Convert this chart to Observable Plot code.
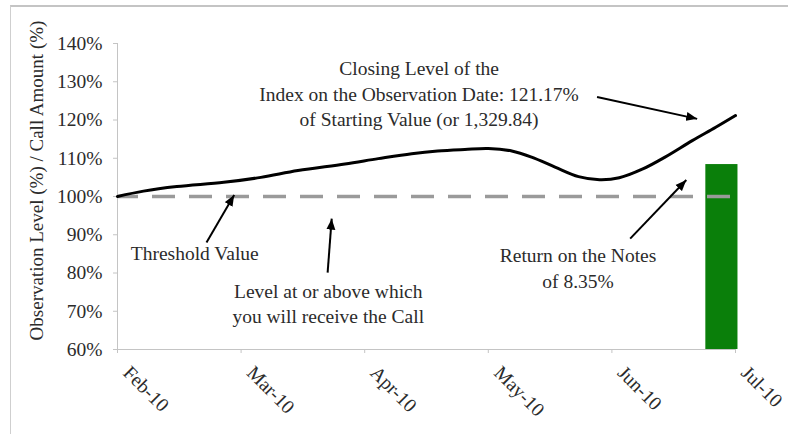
<!DOCTYPE html>
<html>
<head>
<meta charset="utf-8">
<script src="https://cdn.jsdelivr.net/npm/d3@7"></script>
<script src="https://cdn.jsdelivr.net/npm/@observablehq/plot@0.6"></script>
<style>
  html, body { margin: 0; padding: 0; background: #fff; }
  #wrap { position: relative; width: 788px; height: 434px; overflow: hidden; }
  #border { position: absolute; left: 10px; top: 5px; right: -2px; bottom: -2px;
            border-top: 2px solid #c4c4c4; border-left: 1px solid #cfcfcf; pointer-events: none; }
</style>
</head>
<body>
<div id="wrap"><div id="border"></div></div>
<script>
// ---- data ----
const monthLabels = ["Feb-10", "Mar-10", "Apr-10", "May-10", "Jun-10", "Jul-10"];
const monthPositions = [0, 1, 2, 3, 4, 5];
const yTicks = [60, 70, 80, 90, 100, 110, 120, 130, 140];

// Index level (% of starting value), x in months since Feb-10
const levelX = [0, 0.21, 0.48, 0.86, 1.16, 1.46, 1.84, 2.11, 2.38, 2.59, 2.81, 3.0, 3.19, 3.35, 3.54, 3.73, 3.9, 4.06, 4.25, 4.43, 4.65, 4.84, 5.0];
const levelY = [100, 101.4, 102.6, 103.7, 105.0, 106.8, 108.5, 109.9, 111.2, 111.9, 112.3, 112.55, 111.9, 110.3, 107.7, 105.2, 104.4, 104.9, 107.2, 110.3, 114.6, 118.1, 121.17];

const thresholdValue = 100;
const callAmount = 108.35;   // 100% + 8.35% return
const barStart = [4.76];
const barEnd = [5.02];

const annotationTexts = [
  "Closing Level of the\nIndex on the Observation Date: 121.17%\nof Starting Value (or 1,329.84)",
  "Threshold Value",
  "Level at or above which\nyou will receive the Call",
  "Return on the Notes\nof 8.35%"
];
const annotationX = [2.44, 0.625, 1.705, 3.726];
const annotationY = [127.2, 85.5, 72.3, 81.6];

const arrowX1 = [3.88, 0.72, 1.70, 4.148];
const arrowY1 = [126.0, 88.0, 80.1, 89.0];
const arrowX2 = [4.69, 0.944, 1.733, 4.602];
const arrowY2 = [120.3, 100.4, 94.2, 104.3];

const yLabel = "Observation Level (%) / Call Amount (%)";

// ---- build ----
const line = levelX.map((x, i) => ({x, y: levelY[i]}));
const bar = barStart.map((x1, i) => ({x1, x2: barEnd[i], y1: 60, y2: callAmount}));
const notes = annotationTexts.map((t, i) => ({t, x: annotationX[i], y: annotationY[i]}));
const arrows = arrowX1.map((x1, i) => ({x1, y1: arrowY1[i], x2: arrowX2[i], y2: arrowY2[i]}));

const FONT = "'Liberation Serif', 'Times New Roman', serif";
const FS = 19.5;
const TXT = "#2b2b2b";

// filled triangular arrowhead marker (like the spreadsheet's)
function filledArrow(color) {
  const ns = "http://www.w3.org/2000/svg";
  const m = document.createElementNS(ns, "marker");
  m.setAttribute("viewBox", "-11 -5 12 10");
  m.setAttribute("markerWidth", "12");
  m.setAttribute("markerHeight", "10");
  m.setAttribute("markerUnits", "userSpaceOnUse");
  m.setAttribute("refX", "0");
  m.setAttribute("refY", "0");
  m.setAttribute("orient", "auto");
  const p = document.createElementNS(ns, "path");
  p.setAttribute("d", "M0,0L-11,-4.5L-11,4.5Z");
  p.setAttribute("fill", color);
  p.setAttribute("stroke", "none");
  m.appendChild(p);
  return m;
}

const chart = Plot.plot({
  width: 788,
  height: 434,
  marginLeft: 117,
  marginRight: 53,
  marginTop: 43,
  marginBottom: 85,
  style: {fontFamily: FONT, fontSize: FS + "px", background: "transparent", color: TXT},
  x: {type: "linear", domain: [0, 5], axis: null},
  y: {domain: [60, 140], axis: null},
  marks: [
    Plot.rect(bar, {x1: "x1", x2: "x2", y1: "y1", y2: "y2", fill: "#0a7f0a"}),
    Plot.ruleY([thresholdValue], {stroke: "#9a9a9a", strokeWidth: 3.5, strokeDasharray: "23,14", strokeDashoffset: 2}),
    Plot.ruleX([0], {stroke: "#c4c4c4", strokeWidth: 1}),
    Plot.ruleY([60], {stroke: "#c4c4c4", strokeWidth: 1}),
    Plot.axisY({ticks: yTicks, tickFormat: d => d + "%", tickSize: 4, tickPadding: 11,
                stroke: "#c4c4c4", fill: TXT, fontSize: FS, fontFamily: FONT, label: null}),
    // x tick marks
    Plot.axisX({ticks: monthPositions, tickFormat: () => "", tickSize: 4, stroke: "#c4c4c4", label: null}),
    // rotated x tick labels
    Plot.axisX({ticks: monthPositions, tickFormat: d => monthLabels[d], tickRotate: 45,
                tickSize: 0, tickPadding: 12, dx: 9, dy: 8, fill: TXT, fontSize: FS, fontFamily: FONT, label: null}),
    Plot.text([yLabel], {frameAnchor: "left", textAnchor: "middle", rotate: -90, dx: -81, dy: -16, fill: TXT, fontSize: 19, fontFamily: FONT}),
    Plot.line(line, {x: "x", y: "y", stroke: "#000", strokeWidth: 3, curve: "catmull-rom"}),
    Plot.link(arrows, {x1: "x1", y1: "y1", x2: "x2", y2: "y2", stroke: "#000", strokeWidth: 2, markerEnd: filledArrow}),
    Plot.text(notes, {x: "x", y: "y", text: "t", fill: TXT, fontSize: FS, fontFamily: FONT, lineHeight: 1.3, textAnchor: "middle"})
  ]
});
document.getElementById("wrap").appendChild(chart);
chart.style.position = "absolute";
chart.style.left = "0";
chart.style.top = "0";
</script>
</body>
</html>
